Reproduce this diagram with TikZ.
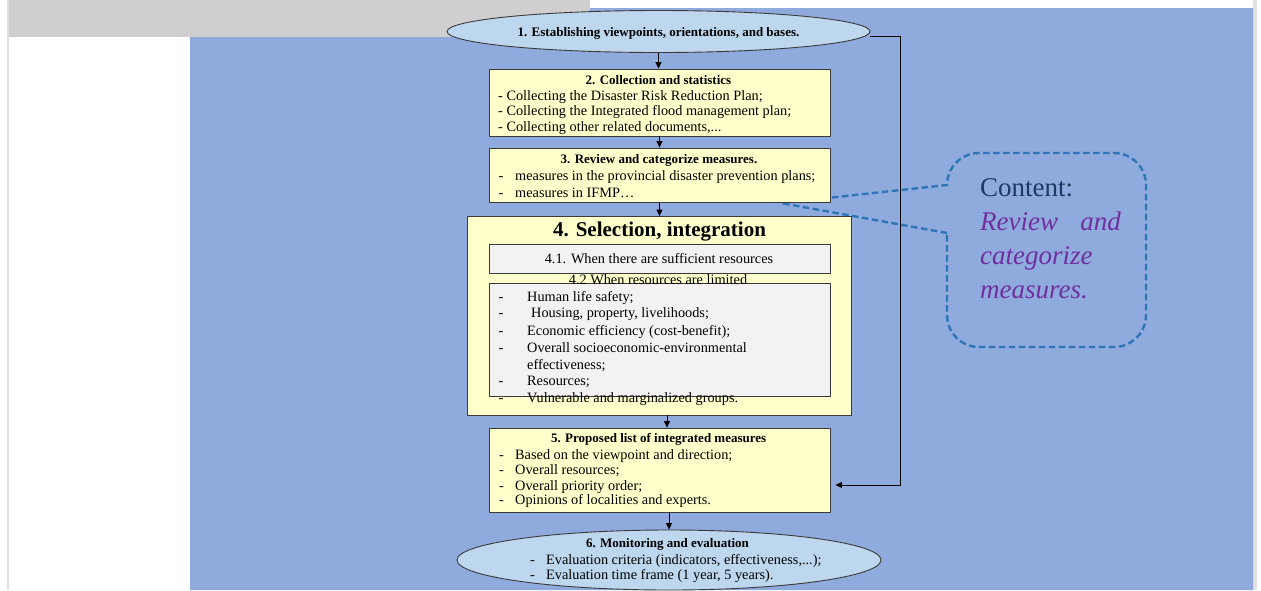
\documentclass[tikz,border=0pt]{standalone}
\usepackage{fontspec}
\setmainfont{Liberation Serif}
\newfontfamily\calloutfont{Liberation Serif}
\usetikzlibrary{shapes.geometric,arrows.meta}

\definecolor{pagegray}{HTML}{D0CECE}
\definecolor{edgegray}{HTML}{E1E1E1}
\definecolor{bgblue}{HTML}{8FAADC}
\definecolor{ovalblue}{HTML}{BDD7EE}
\definecolor{boxyellow}{HTML}{FFFFCC}
\definecolor{boxgray}{HTML}{F2F2F2}
\definecolor{boxline}{HTML}{3A3A3A}
\definecolor{callblue}{HTML}{2E75B6}
\definecolor{navy}{HTML}{1F3864}
\definecolor{violet}{HTML}{7030A0}

\tikzset{
  ybox/.style={rectangle, draw=boxline, line width=0.9pt, fill=boxyellow, inner sep=0pt},
  gbox/.style={rectangle, draw=boxline, line width=0.9pt, fill=boxgray, inner sep=0pt},
  oval/.style={ellipse, draw=boxline, line width=0.9pt, fill=ovalblue, inner sep=0pt},
  ttl/.style={font=\fontsize{13}{15}\selectfont\bfseries, inner sep=0pt, anchor=base},
  txt/.style={font=\fontsize{14.3}{16}\selectfont, inner sep=0pt, anchor=base west},
  arr/.style={draw=black, line width=0.8pt, -{Triangle[length=6.5pt,width=6pt]}},
  calloutline/.style={draw=callblue, line width=2.4pt, dash pattern=on 6.5pt off 3.5pt},
  cfont/.style={font=\calloutfont\fontsize{27}{30}\selectfont, inner sep=0pt},
}

\begin{document}
\begin{tikzpicture}[x=1pt,y=-1pt]
\useasboundingbox (0,0) rectangle (1261,590);

% page and slide background
\fill[white] (0,0) rectangle (1261,590);
\fill[pagegray] (8,0) rectangle (590,37);
\fill[edgegray] (6.5,0) rectangle (8.5,590);
\fill[edgegray] (1253,0) rectangle (1257,590);
\fill[bgblue] (190,37) -- (590,37) -- (590,8) -- (1253,8) -- (1253,590) -- (190,590) -- cycle;

% callout bubble
\draw[calloutline] (947,233) -- (781,203) -- (947,185)
  [rounded corners=32pt] -- (947,153) -- (1146,153) -- (1146,347) -- (947,347) -- (947,233);
\node[cfont, text=navy, anchor=base west] (cc) at (980,196) {Content:};
\node[cfont, text=violet, anchor=base west] (cr) at (980,230) {\itshape Review};
\node[cfont, text=violet, anchor=base east] (ca) at (1121,230) {\itshape and};
\node[cfont, text=violet, anchor=base west] (cg) at (980,264) {\itshape categorize};
\node[cfont, text=violet, anchor=base west] (cm) at (980,298) {\itshape measures.};

% step 1
\node[oval, minimum width=423pt, minimum height=42pt] (e1) at (658.5,31.5) {};
\node[ttl] (t1) at (658.5,36) {1. Establishing viewpoints, orientations, and bases.};

% step 2
\node[ybox, minimum width=341pt, minimum height=67pt] (b2) at (659.5,102.5) {};
\node[ttl] (t2) at (658.5,84) {2. Collection and statistics};
\node[txt] (t2a) at (498,100.5) {- Collecting the Disaster Risk Reduction Plan;};
\node[txt] (t2b) at (498,115.5) {- Collecting the Integrated flood management plan;};
\node[txt] (t2c) at (498,131) {- Collecting other related documents,...};

% step 3
\node[ybox, minimum width=341pt, minimum height=54.5pt] (b3) at (659.5,175.25) {};
\node[ttl] (t3) at (659,163) {3. Review and categorize measures.};
\node[txt] (d3a) at (498.5,180.5) {-};
\node[txt] (t3a) at (515,180.5) {measures in the provincial disaster prevention plans;};
\node[txt] (d3b) at (498.5,197) {-};
\node[txt] (t3b) at (515,197) {measures in IFMP…};

% step 4
\node[ybox, minimum width=384pt, minimum height=198.5pt] (b4) at (659,315.75) {};
\node[font=\fontsize{21}{24}\selectfont\bfseries, inner sep=0pt, anchor=base] (t4) at (659.5,236.5) {4. Selection, integration};
\node[gbox, minimum width=341pt, minimum height=29pt] (b41) at (659.5,258.5) {};
\node[font=\fontsize{14.3}{16}\selectfont, inner sep=0pt, anchor=base] (t41) at (659,263) {4.1. When there are sufficient resources};
\node[gbox, minimum width=341pt, minimum height=112.7pt] (b42) at (659.5,339.65) {};
\node[font=\fontsize{14.3}{16}\selectfont, inner sep=0pt, anchor=base] (t42) at (658,284.5) {4.2 When resources are limited};
\node[txt] (d42a) at (498.5,301) {-};
\node[txt] (t42a) at (527,301) {Human life safety;};
\node[txt] (d42b) at (498.5,317.5) {-};
\node[txt] (t42b) at (531,317.5) {Housing, property, livelihoods;};
\node[txt] (d42c) at (498.5,335.5) {-};
\node[txt] (t42c) at (527,335.5) {Economic efficiency (cost-benefit);};
\node[txt] (d42d) at (498.5,352) {-};
\node[txt] (t42d) at (527,352) {Overall socioeconomic-environmental};
\node[txt] (t42e) at (527,369) {effectiveness;};
\node[txt] (d42f) at (498.5,385.5) {-};
\node[txt] (t42f) at (527,385.5) {Resources;};
\node[txt] (d42g) at (498.5,402) {-};
\node[txt] (t42g) at (527,402) {Vulnerable and marginalized groups.};

% step 5
\node[ybox, minimum width=341pt, minimum height=84pt] (b5) at (659.5,470) {};
\node[ttl] (t5) at (658.7,442.5) {5. Proposed list of integrated measures};
\node[txt] (d5a) at (499,459) {-};
\node[txt] (t5a) at (515,459) {Based on the viewpoint and direction;};
\node[txt] (d5b) at (499,474) {-};
\node[txt] (t5b) at (515,474) {Overall resources;};
\node[txt] (d5c) at (499,490) {-};
\node[txt] (t5c) at (515,490) {Overall priority order;};
\node[txt] (d5d) at (499,504.5) {-};
\node[txt] (t5d) at (515,504.5) {Opinions of localities and experts.};

% step 6
\node[oval, minimum width=424pt, minimum height=60pt] (e6) at (669,560) {};
\node[ttl] (t6) at (667.5,547.5) {6. Monitoring and evaluation};
\node[txt] (d6a) at (530,564) {-};
\node[txt] (t6a) at (546,564) {Evaluation criteria (indicators, effectiveness,...);};
\node[txt] (d6b) at (530,579) {-};
\node[txt] (t6b) at (546,579) {Evaluation time frame (1 year, 5 years).};

% connectors
\coordinate (x45) at (667,0);
\draw[arr] (e1.south) -- (e1.south |- b2.north);
\draw[arr] (b2.south) -- (b2.south |- b3.north);
\draw[arr] (b3.south) -- (b3.south |- b4.north);
\draw[arr] (b4.south -| x45) -- (b5.north -| x45);
\draw[arr] (b5.south -| e6.north) -- (e6.north);
\draw[arr] ([yshift=-5pt]e1.east) -- ++(30,0) |- ([xshift=5pt,yshift=-15pt]b5.east);
\end{tikzpicture}
\end{document}
